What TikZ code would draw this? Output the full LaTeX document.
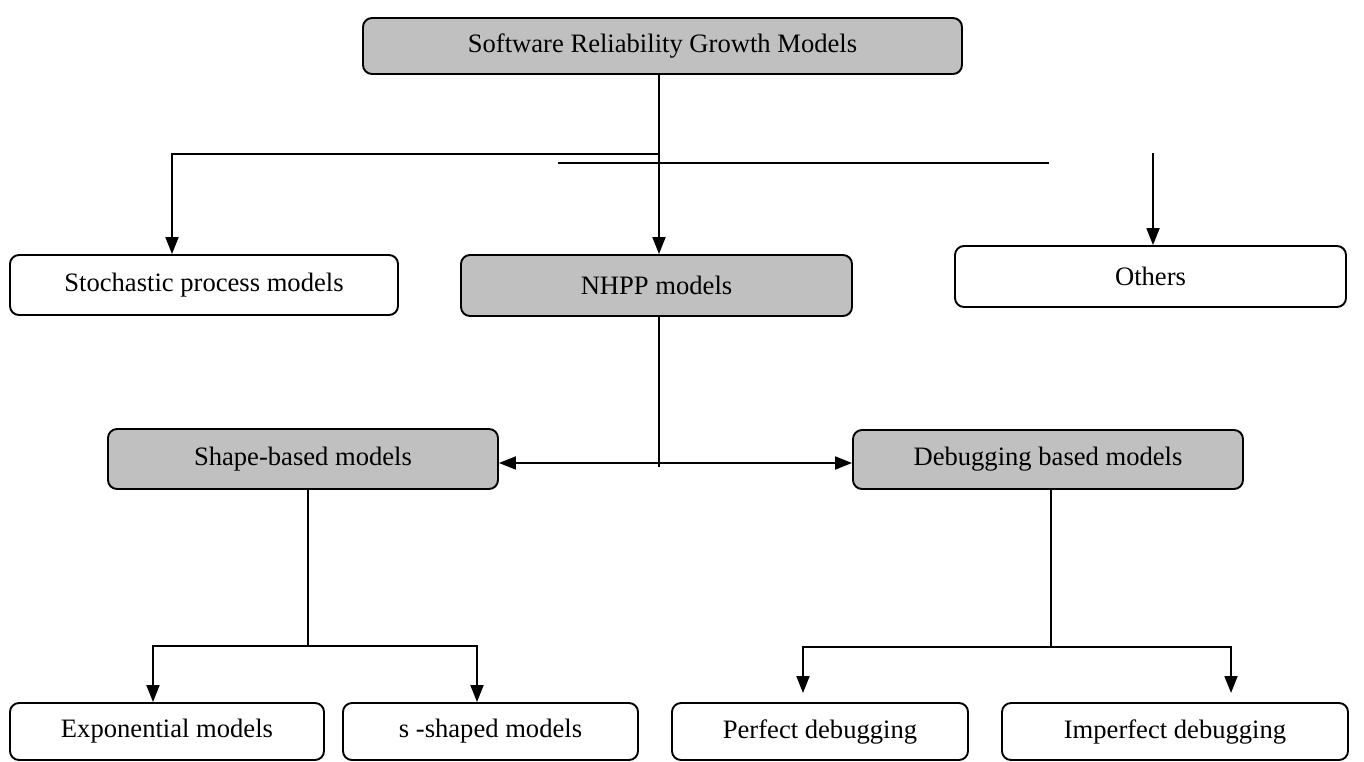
\documentclass[tikz,border=0pt]{standalone}
\usepackage{fontspec}
\setmainfont{Liberation Serif}
\usetikzlibrary{arrows.meta}
\definecolor{boxgray}{RGB}{192,192,192}
\tikzset{
  box/.style={draw=black, line width=1.9pt, rounded corners=9pt, inner sep=0pt,
    font=\fontsize{26.6}{30}\selectfont, text=black, anchor=center},
  graybox/.style={box, fill=boxgray},
  whitebox/.style={box, fill=white},
  conn/.style={draw=black, line width=1.9pt},
  arr/.style={conn, -{Triangle[width=13pt,length=17pt]}},
  darr/.style={conn, {Triangle[width=13pt,length=17pt]}-{Triangle[width=13pt,length=17pt]}}
}
\begin{document}
\begin{tikzpicture}[x=1pt,y=-1pt]
\useasboundingbox (0,0) rectangle (1364,761);
% boxes
\node[graybox, minimum width=599pt, minimum height=56pt] (top) at (662.5,46) {Software Reliability Growth Models};
\node[whitebox, minimum width=388pt, minimum height=60pt] (stoch) at (204,285) {Stochastic process models};
\node[graybox, minimum width=391pt, minimum height=61pt] (nhpp) at (656.5,285.5) {NHPP models};
\node[whitebox, minimum width=391pt, minimum height=61pt] (others) at (1150.5,276.5) {Others};
\node[graybox, minimum width=390pt, minimum height=60pt] (shape) at (303,459) {Shape-based models};
\node[graybox, minimum width=390pt, minimum height=59pt] (debug) at (1048,459.5) {Debugging based models};
\node[whitebox, minimum width=314pt, minimum height=57pt] (expo) at (167,731.5) {Exponential models};
\node[whitebox, minimum width=295pt, minimum height=57pt] (sshape) at (490.5,731.5) {s -shaped models};
\node[whitebox, minimum width=296pt, minimum height=57pt] (perfect) at (820,731.5) {Perfect debugging};
\node[whitebox, minimum width=346pt, minimum height=57pt] (imperfect) at (1175,731.5) {Imperfect debugging};
% junction coordinates
\coordinate (j1) at (659,154);
\coordinate (j1l) at (172,154);
\coordinate (h2a) at (558,163);
\coordinate (h2b) at (1049,163);
\coordinate (oth) at (1153,153);
\coordinate (mid) at (659,463);
\coordinate (midend) at (659,467);
\coordinate (j3) at (308,646);
\coordinate (j3l) at (153,646);
\coordinate (j3r) at (477,646);
\coordinate (j4) at (1051,647);
\coordinate (j4l) at (803,647);
\coordinate (j4r) at (1231,647);
\coordinate (p4l) at (803,693);
\coordinate (p4r) at (1231,693);
% top level connectors
\draw[arr] (top.south -| j1) -- (nhpp.north -| j1);
\draw[arr] (j1) -- (j1l) -- (stoch.north -| j1l);
\draw[conn] (h2a) -- (h2b);
\draw[arr] (oth) -- (others.north -| oth);
% NHPP to second level
\draw[conn] (nhpp.south -| j1) -- (midend);
\draw[darr] (shape.east |- mid) -- (debug.west |- mid);
% shape-based branch
\draw[conn] (shape.south -| j3) -- (j3);
\draw[arr] (j3) -- (j3l) -- (expo.north -| j3l);
\draw[arr] (j3) -- (j3r) -- (sshape.north -| j3r);
% debugging branch
\draw[conn] (debug.south -| j4) -- (j4);
\draw[arr] (j4) -- (j4l) -- (p4l);
\draw[arr] (j4) -- (j4r) -- (p4r);
\end{tikzpicture}
\end{document}
